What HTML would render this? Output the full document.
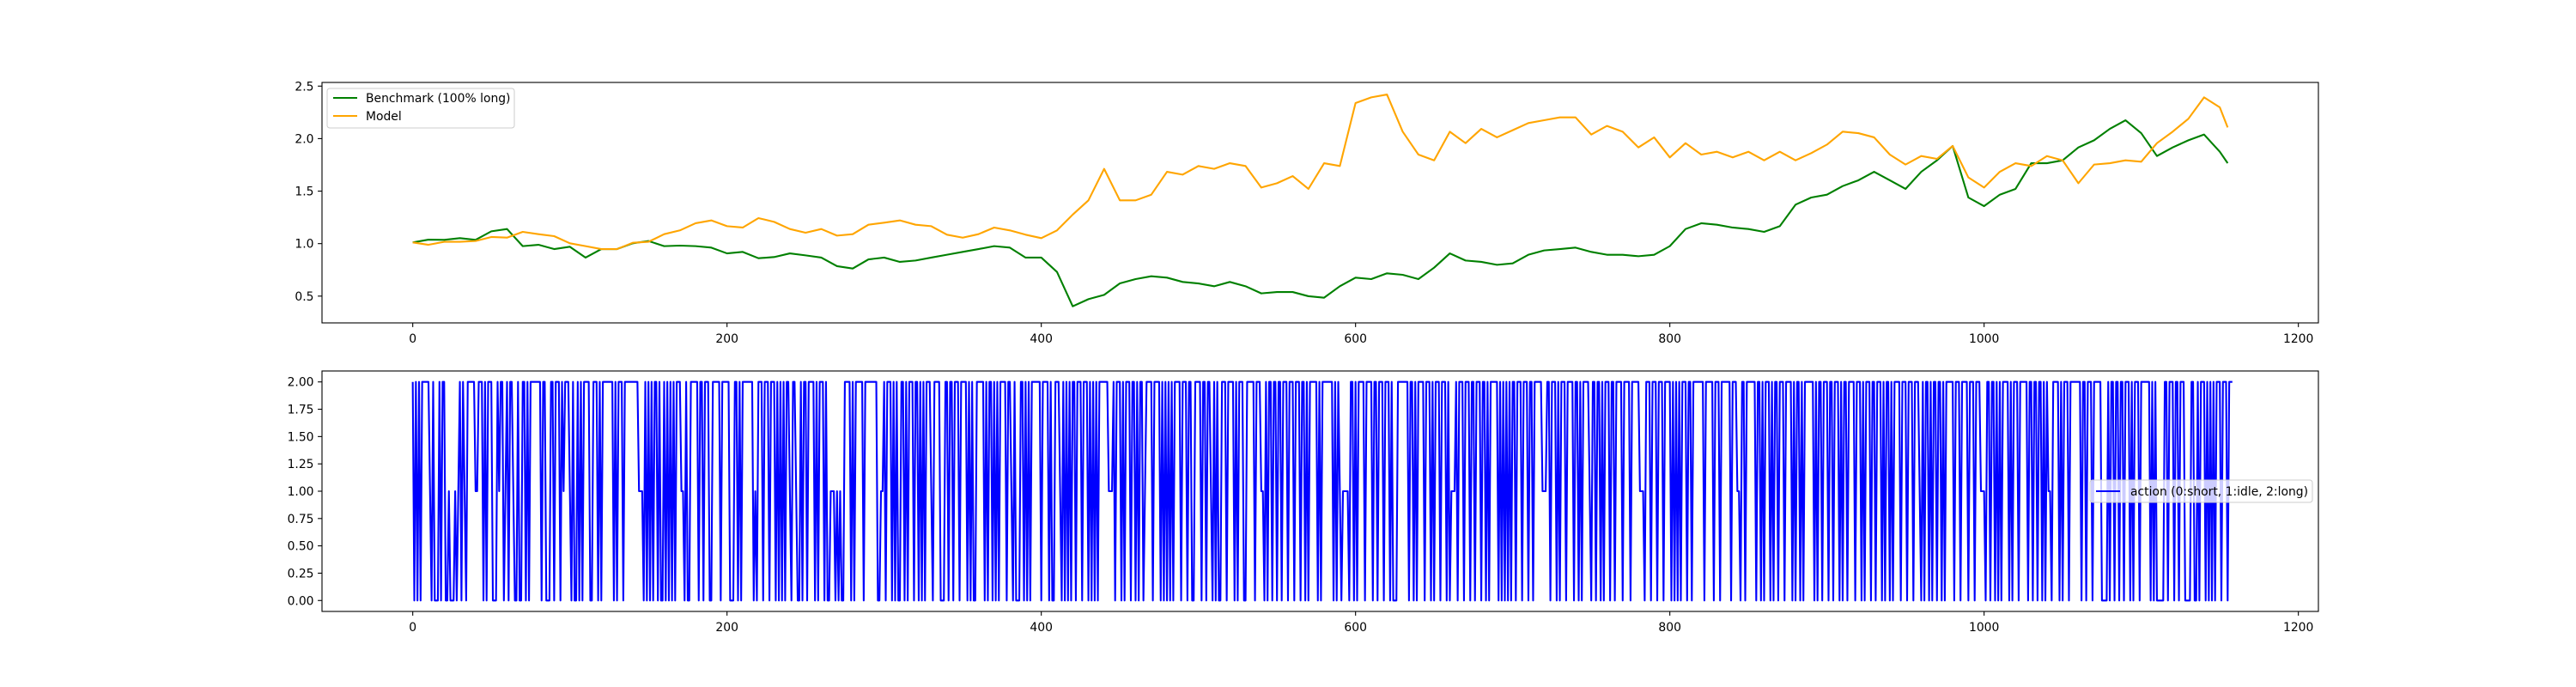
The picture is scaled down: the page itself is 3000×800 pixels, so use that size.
<!DOCTYPE html>
<html><head><meta charset="utf-8">
<style>
html,body{margin:0;padding:0;background:#fff;}
svg{display:block;font-family:"DejaVu Sans","Liberation Sans",sans-serif;}
</style></head>
<body>
<svg id="chart" width="3000" height="800" viewBox="0 0 3000 800" xmlns="http://www.w3.org/2000/svg">
<rect width="3000" height="800" fill="#fff"/>
<g id="top"></g>
<g id="bot"></g>
</svg>
<script>
const steps = [0,10,20,30,40,50,60,70,80,90,100,110,120,130,140,150,160,170,180,190,200,210,220,230,240,250,260,270,280,290,300,310,320,330,340,350,360,370,380,390,400,410,420,430,440,450,460,470,480,490,500,510,520,530,540,550,560,570,580,590,600,610,620,630,640,650,660,670,680,690,700,710,720,730,740,750,760,770,780,790,800,810,820,830,840,850,860,870,880,890,900,910,920,930,940,950,960,970,980,990,1000,1010,1020,1030,1040,1050,1060,1070,1080,1090,1100,1110,1120,1130,1140,1150,1155];
const benchmark = [1.011,1.038,1.036,1.052,1.036,1.117,1.139,0.976,0.989,0.948,0.970,0.867,0.948,0.948,1.003,1.025,0.976,0.981,0.976,0.962,0.907,0.921,0.861,0.872,0.907,0.888,0.867,0.785,0.763,0.850,0.867,0.826,0.839,0.867,0.894,0.921,0.948,0.976,0.962,0.867,0.867,0.730,0.403,0.471,0.512,0.621,0.662,0.689,0.676,0.635,0.621,0.594,0.635,0.594,0.526,0.539,0.539,0.499,0.485,0.594,0.676,0.662,0.717,0.703,0.662,0.771,0.907,0.839,0.826,0.798,0.812,0.894,0.935,0.948,0.962,0.921,0.894,0.894,0.880,0.894,0.976,1.139,1.194,1.180,1.153,1.139,1.112,1.166,1.371,1.439,1.466,1.548,1.603,1.684,1.603,1.521,1.684,1.793,1.930,1.439,1.357,1.466,1.521,1.766,1.766,1.793,1.916,1.984,2.093,2.175,2.052,1.834,1.916,1.984,2.039,1.875,1.766];
const model = [1.011,0.989,1.017,1.017,1.025,1.063,1.057,1.112,1.090,1.071,1.003,0.976,0.948,0.948,1.008,1.017,1.090,1.126,1.194,1.221,1.166,1.153,1.243,1.207,1.139,1.104,1.139,1.076,1.090,1.180,1.199,1.221,1.180,1.166,1.085,1.057,1.090,1.153,1.126,1.085,1.052,1.126,1.276,1.412,1.712,1.412,1.412,1.466,1.684,1.657,1.739,1.712,1.766,1.739,1.534,1.575,1.643,1.521,1.766,1.739,2.339,2.393,2.420,2.066,1.848,1.793,2.066,1.957,2.093,2.012,2.080,2.148,2.175,2.202,2.202,2.039,2.121,2.066,1.916,2.012,1.821,1.957,1.848,1.875,1.821,1.875,1.793,1.875,1.793,1.862,1.943,2.066,2.052,2.012,1.848,1.753,1.834,1.807,1.930,1.630,1.534,1.684,1.766,1.739,1.834,1.793,1.575,1.753,1.766,1.793,1.780,1.957,2.066,2.189,2.393,2.298,2.107];
const actionString =
"2020202222210200020220010001012021022222112220202220002122012022100200220202222222022000220222021222"+
"1020020202222002220202222222020222022222222211102020202202002020202022211020022222022022200222220222"+
"2200022020222222201022202220222020202022102210020220222202022202001110101002222020222220222222220011"+
"2022202020022020222022020202221022220002202202220222202020022222020220202022220221020002202020222222"+
"0222202002221020202022022202220202020222222111202220202220220202201222202222020202020222202220220022"+
"2202202210202002220222202022200222220222110202202202202220222022202202022222020222222202021011110220202"+
"2220222202202220222020002222222022020222202220202220222020111202220222022022202202022222020202020220"+
"2220222022022222111220222020222022220220202222102202202022202202222022220222221110222022202220222202"+
"0202022202202222222022222022202222220222110220222222022020222020220222022220202202022222202022022202"+
"2022202022022220222020222022022202022020222202220222022210202202022022020222220222022220222022211102"+
"2022020202222020222022222022022022020211022220202220222222202202220222220000202202202202220202220222"+
"22202020000022022202202220000220020222020202022202220222";
const actions = actionString.split("").map(Number);
const topTicks = [0.5,1.0,1.5,2.0,2.5];
const topTickLabels = ["0.5","1.0","1.5","2.0","2.5"];
const botTicks = [0,0.25,0.5,0.75,1.0,1.25,1.5,1.75,2.0];
const botTickLabels = ["0.00","0.25","0.50","0.75","1.00","1.25","1.50","1.75","2.00"];
const xTicks = [0,200,400,600,800,1000,1200];
const xTickLabels = ["0","200","400","600","800","1000","1200"];

const NS="http://www.w3.org/2000/svg";
const L=375,R=2700;
const XMIN=-57.75,XMAX=1212.75;
function xs(v){return L+(v-XMIN)/(XMAX-XMIN)*(R-L);}
function mk(parent,tag,attrs,text){const e=document.createElementNS(NS,tag);for(const k in attrs)e.setAttribute(k,attrs[k]);if(text!==undefined)e.textContent=text;parent.appendChild(e);return e;}

function axes(g,top,bottom,ymin,ymax,yt,ytl,namePrefix){
  const ys=v=>bottom-(v-ymin)/(ymax-ymin)*(bottom-top);
  // y ticks
  yt.forEach((t,i)=>{
    const y=ys(t);
    const tk=mk(g,'line',{x1:L-4.9,x2:L,y1:y,y2:y,stroke:'#000','stroke-width':1.1});
    
    
    const tl=mk(g,'text',{x:L-9.5,y:y+5,'text-anchor':'end','font-size':'13.9',fill:'#000'},ytl[i]);
    
    
  });
  xTicks.forEach((t,i)=>{
    const x=xs(t);
    const tk=mk(g,'line',{x1:x,x2:x,y1:bottom,y2:bottom+4.9,stroke:'#000','stroke-width':1.1});
    
    
    const tl=mk(g,'text',{x:x,y:bottom+23,'text-anchor':'middle','font-size':'13.9',fill:'#000'},xTickLabels[i]);
    
    
  });
  return ys;
}
function frame(g,top,bottom,name){
  const f=mk(g,'rect',{x:L,y:top,width:R-L,height:bottom-top,fill:'none',stroke:'#000','stroke-width':1.1});
  
  
}

// TOP PANEL
const gt=document.getElementById('top');
const T0=96,T1=376;
const ysTop=axes(gt,T0,T1,0.245,2.535,topTicks,topTickLabels,'top');
function series(g,vals,xsArr,ys,color,name){
  let d='';
  vals.forEach((v,i)=>{d+=(i?'L':'M')+xs(xsArr[i]).toFixed(2)+','+ys(v).toFixed(2);});
  const p=mk(g,'path',{d:d,fill:'none',stroke:color,'stroke-width':2.1,'stroke-linejoin':'round'});
  
  
}
series(gt,benchmark,steps,ysTop,'#008000','benchmark-line');
series(gt,model,steps,ysTop,'#ffa500','model-line');
frame(gt,T0,T1,'top-axes-frame');
// top legend
const lg=mk(gt,'g',{});


mk(lg,'rect',{x:381,y:103,width:218,height:46,rx:3,fill:'#fff','fill-opacity':0.8,stroke:'#ccc','stroke-width':1});
const le1=mk(lg,'g',{});


mk(le1,'line',{x1:388,x2:416,y1:114,y2:114,stroke:'#008000','stroke-width':2.1});
mk(le1,'text',{x:426,y:119,'font-size':'13.9',fill:'#000'},'Benchmark (100% long)');
const le2=mk(lg,'g',{});


mk(le2,'line',{x1:388,x2:416,y1:135,y2:135,stroke:'#ffa500','stroke-width':2.1});
mk(le2,'text',{x:426,y:140,'font-size':'13.9',fill:'#000'},'Model');

// BOTTOM PANEL
const gb=document.getElementById('bot');
const B0=432,B1=712;
const ysBot=axes(gb,B0,B1,-0.1,2.1,botTicks,botTickLabels,'bottom');
const actionIdx=actions.map((_,i)=>i);
series(gb,actions,actionIdx,ysBot,'#0000ff','action-line');
frame(gb,B0,B1,'bottom-axes-frame');
const lb=mk(gb,'g',{});


mk(lb,'rect',{x:2434,y:559,width:259,height:26,rx:3,fill:'#fff','fill-opacity':0.8,stroke:'#ccc','stroke-width':1});
mk(lb,'line',{x1:2441,x2:2469,y1:572,y2:572,stroke:'#0000ff','stroke-width':2.1});
mk(lb,'text',{x:2481,y:577,'font-size':'13.9',fill:'#000'},'action (0:short, 1:idle, 2:long)');
</script>
</body></html>
